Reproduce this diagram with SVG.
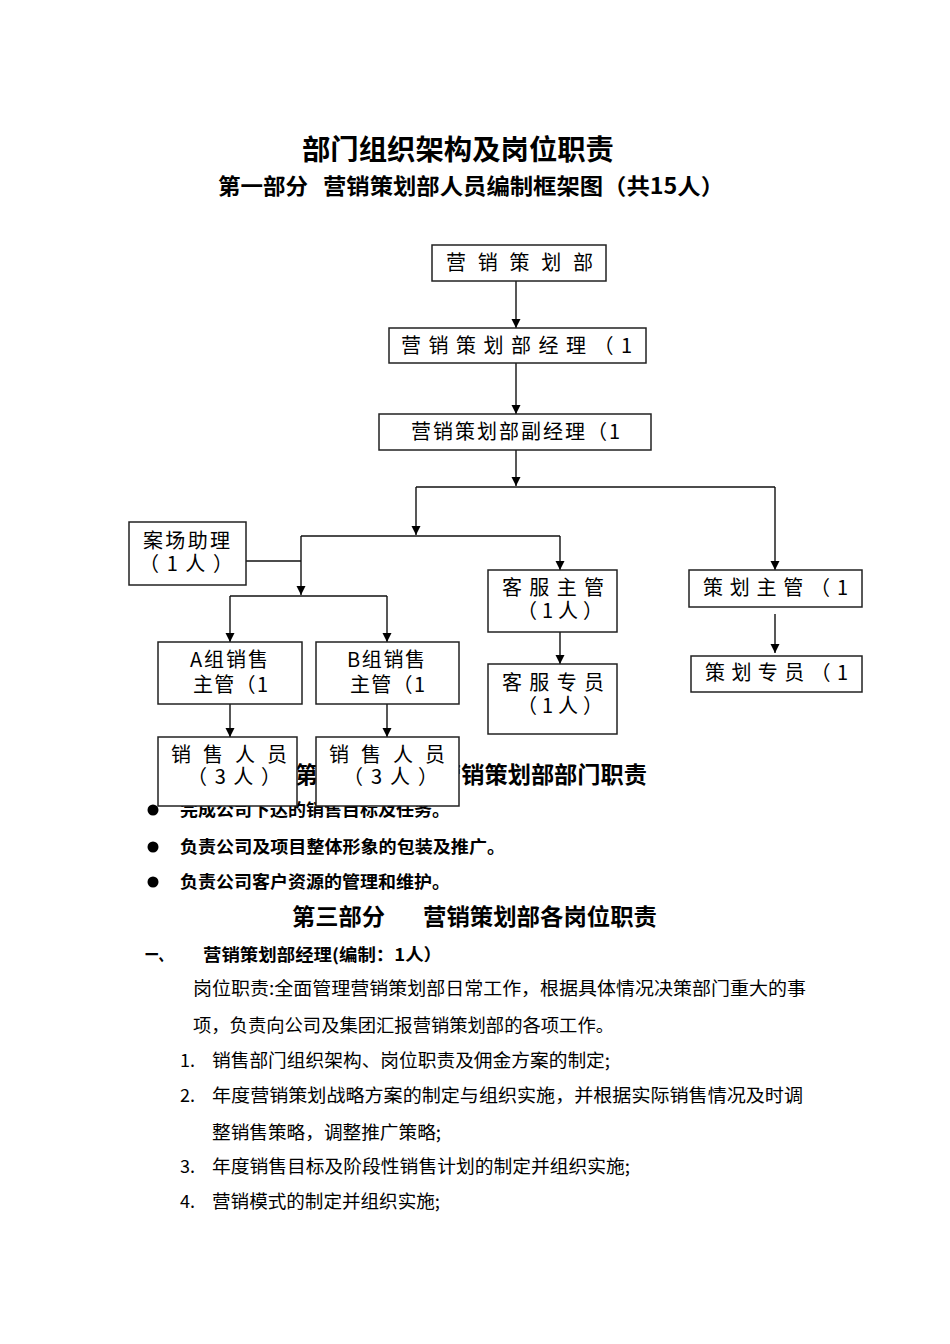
<svg xmlns="http://www.w3.org/2000/svg" width="950" height="1344" viewBox="0 0 950 1344">
<defs>
<style>
text{font-family:"Noto Sans CJK SC","Liberation Serif",sans-serif;fill:#000}
.h{font-weight:700}
.bx{font-size:20px;font-weight:400}
.b{font-size:17px;font-weight:700}
.p{font-size:18px;font-weight:400}
.node rect{fill:#fff;stroke:#222;stroke-width:1.5}
.conn path{fill:none;stroke:#111;stroke-width:1.4}
</style>
<marker id="ar" viewBox="0 0 10 10" refX="10" refY="5" markerWidth="9" markerHeight="10" markerUnits="userSpaceOnUse" orient="auto">
<path d="M0,0 L10,5 L0,10 z" fill="#000"/>
</marker>
</defs>
<rect width="950" height="1344" fill="#fff"/>

<text class="h" x="302" y="160" font-size="28" textLength="312" lengthAdjust="spacingAndGlyphs">部门组织架构及岗位职责</text>
<text class="h" font-size="22" y="194"><tspan x="218" textLength="90" lengthAdjust="spacingAndGlyphs">第一部分</tspan><tspan x="323" textLength="401" lengthAdjust="spacingAndGlyphs">营销策划部人员编制框架图（共15人）</tspan></text>

<text class="h" font-size="23" y="783"><tspan x="295" textLength="92" lengthAdjust="spacingAndGlyphs">第二部分</tspan><tspan x="438" textLength="209" lengthAdjust="spacingAndGlyphs">营销策划部部门职责</tspan></text>
<g id="bullets">
<circle cx="153" cy="810" r="5.5" fill="#000"/>
<circle cx="153" cy="847" r="5.5" fill="#000"/>
<circle cx="153" cy="882" r="5.5" fill="#000"/>
<text class="b" x="180" y="816" textLength="270" lengthAdjust="spacingAndGlyphs">完成公司下达的销售目标及任务。</text>
<text class="b" x="180" y="853" textLength="325" lengthAdjust="spacingAndGlyphs">负责公司及项目整体形象的包装及推广。</text>
<text class="b" x="180" y="888" textLength="270" lengthAdjust="spacingAndGlyphs">负责公司客户资源的管理和维护。</text>
</g>

<g class="conn" id="connectors">
<path d="M516,281 V328" marker-end="url(#ar)"/>
<path d="M516,363 V414" marker-end="url(#ar)"/>
<path d="M516,450 V486" marker-end="url(#ar)"/>
<path d="M416,487 H775"/>
<path d="M416,487 V535" marker-end="url(#ar)"/>
<path d="M775,487 V570" marker-end="url(#ar)"/>
<path d="M301,536 H560"/>
<path d="M560,536 V570" marker-end="url(#ar)"/>
<path d="M246,561 H301"/>
<path d="M301,536 V595" marker-end="url(#ar)"/>
<path d="M230,596 H387"/>
<path d="M230,596 V642" marker-end="url(#ar)"/>
<path d="M387,596 V642" marker-end="url(#ar)"/>
<path d="M230,704 V737" marker-end="url(#ar)"/>
<path d="M387,704 V737" marker-end="url(#ar)"/>
<path d="M560,632 V664" marker-end="url(#ar)"/>
<path d="M775,614 V653" marker-end="url(#ar)"/>
</g>

<g class="node" id="n-dept"><rect x="432" y="245" width="174" height="36"/><text class="bx" x="446" y="270" textLength="147" lengthAdjust="spacing">营销策划部</text></g>
<g class="node" id="n-mgr"><rect x="389" y="328" width="257" height="35"/><text class="bx" x="401" y="353" textLength="231" lengthAdjust="spacing">营销策划部经理（1</text></g>
<g class="node" id="n-vmgr"><rect x="379" y="414" width="272" height="36"/><text class="bx" x="411" y="439" textLength="209" lengthAdjust="spacing">营销策划部副经理（1</text></g>
<g class="node" id="n-asst"><rect x="129" y="522" width="117" height="63"/><text class="bx" x="143" y="548" textLength="87" lengthAdjust="spacing">案场助理</text><text class="bx" x="139" y="571" textLength="94" lengthAdjust="spacing">（1人）</text></g>
<g class="node" id="n-cs"><rect x="488" y="570" width="129" height="62"/><text class="bx" x="502" y="595" textLength="102" lengthAdjust="spacing">客服主管</text><text class="bx" x="517" y="618" textLength="86" lengthAdjust="spacing">（1人）</text></g>
<g class="node" id="n-plan"><rect x="689" y="570" width="173" height="37"/><text class="bx" x="703" y="595" textLength="145" lengthAdjust="spacing">策划主管（1</text></g>
<g class="node" id="n-a"><rect x="158" y="642" width="144" height="62"/><text class="bx" x="190" y="667" textLength="78" lengthAdjust="spacing">A组销售</text><text class="bx" x="193" y="692" textLength="75" lengthAdjust="spacing">主管（1</text></g>
<g class="node" id="n-b"><rect x="316" y="642" width="143" height="62"/><text class="bx" x="347" y="667" textLength="78" lengthAdjust="spacing">B组销售</text><text class="bx" x="350" y="692" textLength="75" lengthAdjust="spacing">主管（1</text></g>
<g class="node" id="n-csstaff"><rect x="488" y="664" width="129" height="70"/><text class="bx" x="502" y="690" textLength="102" lengthAdjust="spacing">客服专员</text><text class="bx" x="517" y="713" textLength="86" lengthAdjust="spacing">（1人）</text></g>
<g class="node" id="n-planstaff"><rect x="691" y="656" width="171" height="36"/><text class="bx" x="705" y="680" textLength="143" lengthAdjust="spacing">策划专员（1</text></g>
<g class="node" id="n-sa"><rect x="158" y="737" width="139" height="69"/><text class="bx" x="171" y="762" textLength="116" lengthAdjust="spacing">销售人员</text><text class="bx" x="187" y="784" textLength="94" lengthAdjust="spacing">（3人）</text></g>
<g class="node" id="n-sb"><rect x="316" y="737" width="143" height="69"/><text class="bx" x="329" y="762" textLength="116" lengthAdjust="spacing">销售人员</text><text class="bx" x="343" y="784" textLength="95" lengthAdjust="spacing">（3人）</text></g>

<text class="h" font-size="23" y="925"><tspan x="292" textLength="93" lengthAdjust="spacingAndGlyphs">第三部分</tspan><tspan x="423" textLength="234" lengthAdjust="spacingAndGlyphs">营销策划部各岗位职责</tspan></text>
<text class="b" x="145" y="961" textLength="27" lengthAdjust="spacingAndGlyphs">一、</text>
<text class="b" x="203" y="961" textLength="239" lengthAdjust="spacingAndGlyphs">营销策划部经理(编制：1人）</text>
<text class="p" x="193" y="995" textLength="613" lengthAdjust="spacingAndGlyphs">岗位职责:全面管理营销策划部日常工作，根据具体情况决策部门重大的事</text>
<text class="p" x="193" y="1032" textLength="421" lengthAdjust="spacingAndGlyphs">项，负责向公司及集团汇报营销策划部的各项工作。</text>
<text class="p" x="180" y="1067">1.</text>
<text class="p" x="212" y="1067" textLength="398" lengthAdjust="spacingAndGlyphs">销售部门组织架构、岗位职责及佣金方案的制定;</text>
<text class="p" x="180" y="1102">2.</text>
<text class="p" x="212" y="1102" textLength="591" lengthAdjust="spacingAndGlyphs">年度营销策划战略方案的制定与组织实施，并根据实际销售情况及时调</text>
<text class="p" x="212" y="1139" textLength="229" lengthAdjust="spacingAndGlyphs">整销售策略，调整推广策略;</text>
<text class="p" x="180" y="1173">3.</text>
<text class="p" x="212" y="1173" textLength="418" lengthAdjust="spacingAndGlyphs">年度销售目标及阶段性销售计划的制定并组织实施;</text>
<text class="p" x="180" y="1208">4.</text>
<text class="p" x="212" y="1208" textLength="228" lengthAdjust="spacingAndGlyphs">营销模式的制定并组织实施;</text>
</svg>
